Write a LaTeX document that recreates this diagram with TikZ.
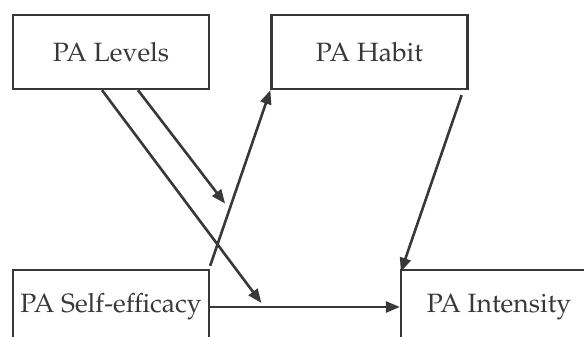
\documentclass[tikz,border=0pt]{standalone}
\usepackage[T1]{fontenc}
\usepackage{mathpazo}
\usetikzlibrary{arrows.meta, calc}

\begin{document}
\begin{tikzpicture}[
x=1pt, y=-1pt,
box/.style={rectangle, draw=ink, line width=2.3pt, minimum width=196pt,
minimum height=74pt, inner sep=0pt, text=ink,
font=\fontsize{26.5}{30}\selectfont},
arr/.style={-{Triangle[length=14pt, width=11pt]}, draw=ink, line width=2.6pt}
]
\colorlet{ink}{black!78}
\useasboundingbox (0,0) rectangle (584,337);
\clip (0,0) rectangle (584,337);

\node[box] (L) at (111,52) {PA Levels};
\node[box] (H) at (369.5,52) {PA Habit};
\node[box] (SE) at (111,307) {PA Self-efficacy};
\node[box] (I) at (499,307) {PA Intensity};

% points on the paths that are moderated
\coordinate (m1) at ($(SE.east)!0.27!(I.west) + (0,-4)$);
\coordinate (m2) at ($(SE.north east)!0.365!(H.south west) + (-7,0)$);

\draw[arr] (SE.east) -- (I.west);
\draw[arr] ([yshift=3pt]SE.north east) -- (H.south west);
\draw[arr] ([xshift=-7pt, yshift=-5pt]H.south east) -- ([xshift=1pt, yshift=-3pt]I.north west);
\draw[arr] ([xshift=-9pt]L.south) -- (m1);
\draw[arr] ([xshift=27pt]L.south) -- (m2);
\end{tikzpicture}
\end{document}
